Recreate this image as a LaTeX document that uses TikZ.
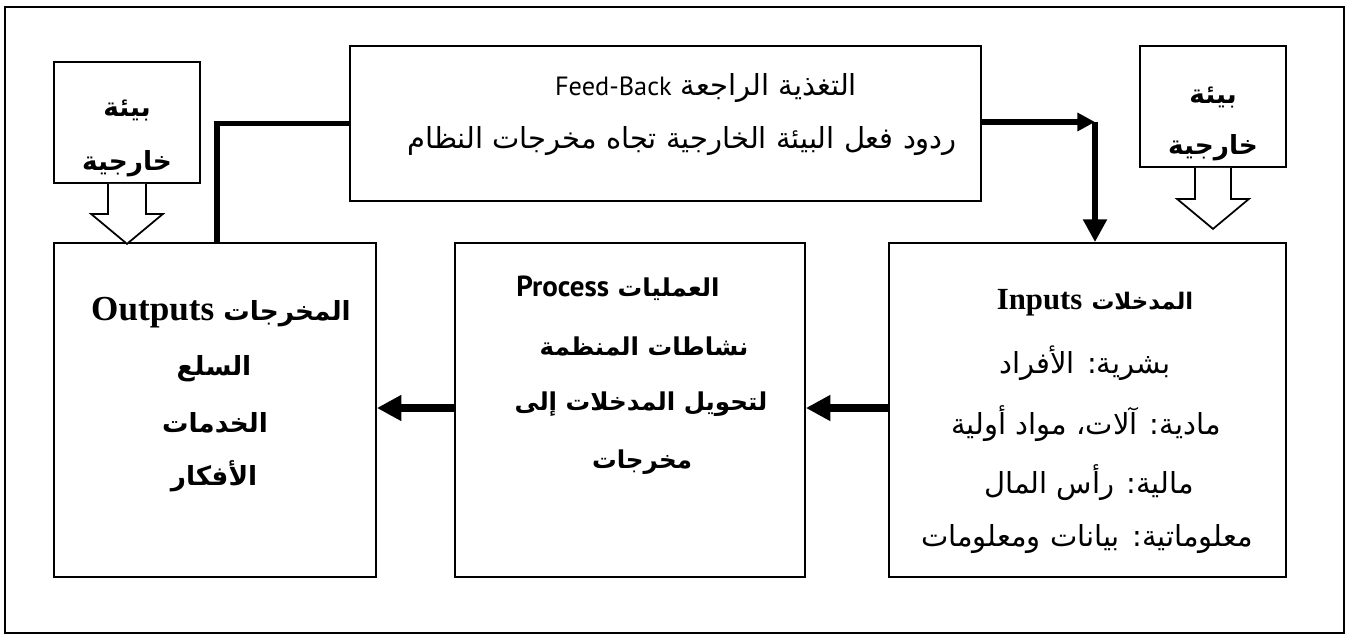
\documentclass[tikz,border=0pt]{standalone}
\usepackage{fontspec}
\setmainfont{DejaVu Sans}
\newfontfamily\arabicfont[Script=Arabic]{DejaVu Sans}
\newfontfamily\latinserif{Liberation Serif}
\newfontfamily\latinsans{PT Sans}
\TeXXeTstate=1
\usetikzlibrary{arrows.meta}

\begin{document}
\begin{tikzpicture}[x=0.02cm,y=-0.02cm,
    box/.style 2 args={draw=black, line width=1pt, inner sep=0pt,
        minimum width=#1*0.02cm, minimum height=#2*0.02cm},
    txt/.style={inner sep=0pt, font=\arabicfont\fontsize{16.5}{19}\selectfont},
    btxt/.style={inner sep=0pt, font=\arabicfont\bfseries\fontsize{15}{18}\selectfont},
    ptxt/.style={inner sep=0pt, font=\arabicfont\bfseries\fontsize{14}{17}\selectfont},
    fbline/.style={line width=3pt},
    flow/.style={line width=4pt, -{Triangle[length=14pt,width=14pt]}},
    envarrow/.style={draw=black, line width=1pt, fill=white}]
    \useasboundingbox (0,0) rectangle (1352,639);
    \draw[line width=1pt] (5,7) rectangle (1344,633);

    % boxes
    \node[box={631}{155}] (fb) at (665.5,123.5) {};
    \node[box={146}{121}] (envL) at (127,122.5) {};
    \node[box={146}{121}] (envR) at (1213,106.5) {};
    \node[box={322}{334}] (outputs) at (215,410) {};
    \node[box={350}{334}] (process) at (630,410) {};
    \node[box={397}{334}] (inputs) at (1087.5,410) {};

    % feed-back
    \node[txt] (fb1) at (706,88) {\beginR التغذية الراجعة {\latinsans\fontsize{15}{18}\selectfont\beginL Feed-Back\endL}\endR};
    \node[txt] (fb2) at (682,141) {\beginR ردود فعل البيئة الخارجية تجاه مخرجات النظام\endR};

    % environment
    \node[btxt] (envL1) at (127,111) {\beginR بيئة\endR};
    \node[btxt] (envL2) at (127,164) {\beginR خارجية\endR};
    \node[btxt] (envR1) at (1213,98) {\beginR بيئة\endR};
    \node[btxt] (envR2) at (1213,148) {\beginR خارجية\endR};

    % outputs
    \node[btxt] (out1) at (221,313) {\beginR المخرجات {\latinserif\fontsize{20}{23}\selectfont\beginL Outputs\endL}\endR};
    \node[btxt] (out2) at (214,369) {\beginR السلع\endR};
    \node[btxt] (out3) at (215,423) {\beginR الخدمات\endR};
    \node[btxt] (out4) at (214,476) {\beginR الأفكار\endR};

    % process
    \node[ptxt] (pro1) at (618,288) {\beginR العمليات {\latinsans\fontsize{16.5}{19}\selectfont\beginL Process\endL}\endR};
    \node[ptxt] (pro2) at (644,346) {\beginR نشاطات المنظمة\endR};
    \node[ptxt] (pro3) at (641,404) {\beginR لتحويل المدخلات إلى\endR};
    \node[ptxt] (pro4) at (642,462) {\beginR مخرجات\endR};

    % inputs
    \node[btxt] (in1) at (1095,303) {\beginR{\fontsize{13}{16}\selectfont المدخلات} {\latinserif\fontsize{17.5}{20}\selectfont\beginL Inputs\endL}\endR};
    \node[txt] (in2) at (1085,363) {\beginR بشرية: الأفراد\endR};
    \node[txt] (in3) at (1086,424) {\beginR مادية: آلات، مواد أولية\endR};
    \node[txt] (in4) at (1089,483) {\beginR مالية: رأس المال\endR};
    \node[txt] (in5) at (1087,539) {\beginR معلوماتية: بيانات ومعلومات\endR};

    % connectors
    \coordinate (fbl) at (217,123.5);
    \coordinate (fbr) at (1095,122);
    \draw[fbline] (fb.west |- fbl) -- (fbl) -- (fbl |- outputs.north);
    \draw[fbline, -{Triangle[length=10pt,width=10pt]}] (fb.east |- fbr) -- (fbr);
    \draw[fbline, line width=3.5pt, -{Triangle[length=13pt,width=13pt]}] (fbr) -- (fbr |- inputs.north);
    \draw[flow] (inputs.west |- 0,408) -- (process.east |- 0,408);
    \draw[flow] (process.west |- 0,408) -- (outputs.east |- 0,408);

    \draw[envarrow] (envL.south) +(-19,0) -- +(-19,30) -- +(-36,30) -- +(0,60)
        -- +(36,30) -- +(19,30) -- +(19,0);
    \draw[envarrow] (envR.south) +(-18,0) -- +(-18,31) -- +(-36,31) -- +(0,61)
        -- +(36,31) -- +(18,31) -- +(18,0);
\end{tikzpicture}
\end{document}
